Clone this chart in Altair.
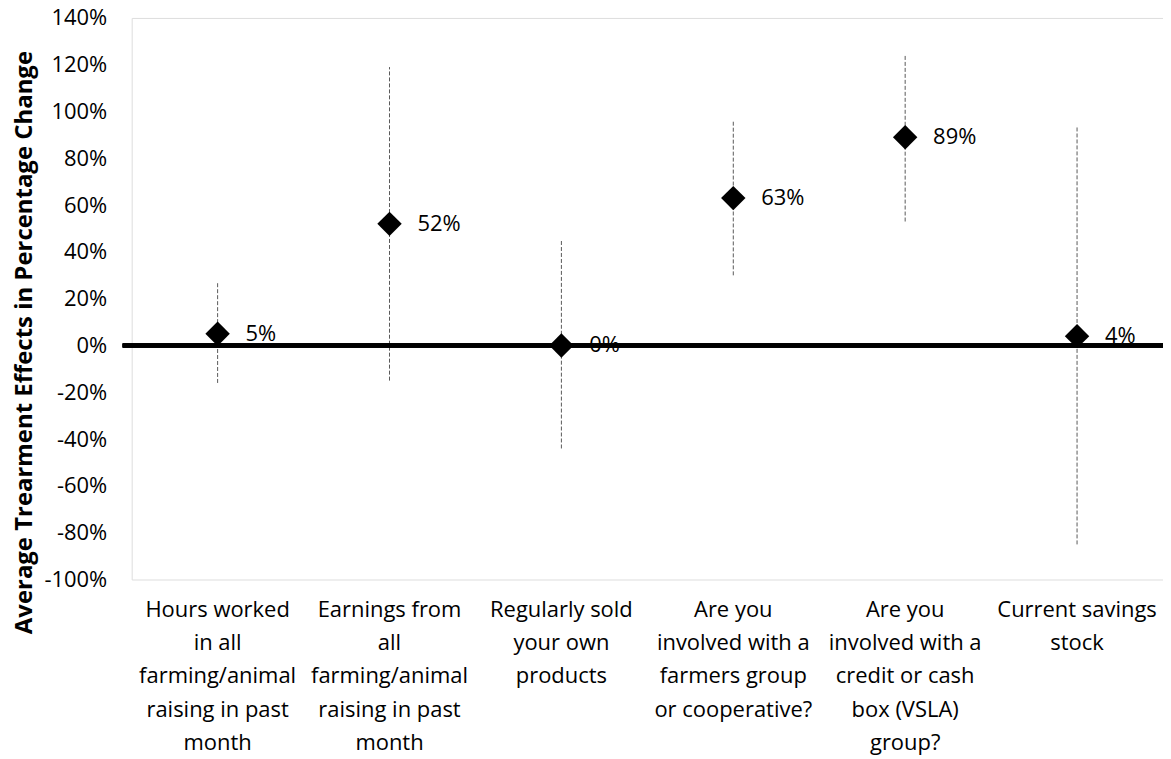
import altair as alt
import pandas as pd

categories = [
    "Hours worked\nin all\nfarming/animal\nraising in past\nmonth",
    "Earnings from\nall\nfarming/animal\nraising in past\nmonth",
    "Regularly sold\nyour own\nproducts",
    "Are you\ninvolved with a\nfarmers group\nor cooperative?",
    "Are you\ninvolved with a\ncredit or cash\nbox (VSLA)\ngroup?",
    "Current savings\nstock",
]
effects = [0.05, 0.52, 0.0, 0.63, 0.89, 0.04]
ci_low = [-0.16, -0.15, -0.44, 0.30, 0.53, -0.85]
ci_high = [0.27, 1.19, 0.45, 0.96, 1.24, 0.94]
y_ticks = [-1.0, -0.8, -0.6, -0.4, -0.2, 0.0, 0.2, 0.4, 0.6, 0.8, 1.0, 1.2, 1.4]

df = pd.DataFrame({"cat": categories, "eff": effects, "lo": ci_low, "hi": ci_high})

FONT = "Open Sans"
W, H = 1034, 563

x = alt.X(
    "cat:N",
    sort=categories,
    scale=alt.Scale(paddingInner=0, paddingOuter=0),
    axis=alt.Axis(
        title=None,
        labelAngle=0,
        domain=False,
        ticks=False,
        tickSize=0,
        labelFont=FONT,
        labelFontSize=22,
        labelColor="black",
        labelLineHeight=33.3,
        labelBaseline="top",
        labelPadding=20,
        labelLimit=0,
        labelExpr="split(datum.label, '\\n')",
    ),
)

y_scale = alt.Scale(domain=[-1.0, 1.4], nice=False, zero=False)

bars = alt.Chart(df).mark_rule(
    color="#595959", strokeWidth=1, strokeDash=[4, 2]
).encode(
    x=x,
    y=alt.Y(
        "lo:Q",
        scale=y_scale,
        axis=alt.Axis(
            values=y_ticks,
            title="Average Trearment Effects in Percentage Change",
            titleFont=FONT,
            titleFontSize=24,
            titleFontWeight="bold",
            titleColor="black",
            titleAngle=270,
            titleAlign="center",
            titleBaseline="middle",
            titleX=-107,
            titleY=325,
            domain=False,
            ticks=False,
            tickSize=0,
            grid=False,
            labelFont=FONT,
            labelFontSize=22,
            labelColor="black",
            labelPadding=25,
            labelExpr="(datum.value < 0 ? '-' : '') + format(abs(datum.value), '.0%')",
        ),
    ),
    y2="hi:Q",
)

zero = alt.Chart(df).mark_rule(color="black", strokeWidth=4).encode(
    y=alt.datum(0, scale=y_scale),
    x=alt.value(-9),
    x2=alt.value(W),
)

points = alt.Chart(df).mark_point(
    shape="diamond", filled=True, color="black", size=600, opacity=1
).encode(x=x, y=alt.Y("eff:Q", scale=y_scale))

labels = alt.Chart(df).mark_text(
    align="left", baseline="middle", dx=28, font=FONT, fontSize=22, color="black"
).encode(x=x, y=alt.Y("eff:Q", scale=y_scale), text=alt.Text("eff:Q", format=".0%"))

chart = (
    alt.layer(bars, zero, points, labels)
    .properties(
        width=W,
        height=H,
        autosize=alt.AutoSizeParams(type="none"),
        padding={"left": 124, "top": 9, "right": 0, "bottom": 178},
    )
    .configure_view(stroke=None)
    .configure(background="white")
)

chart.save("out.html", embed_options={"renderer": "svg", "actions": False})
